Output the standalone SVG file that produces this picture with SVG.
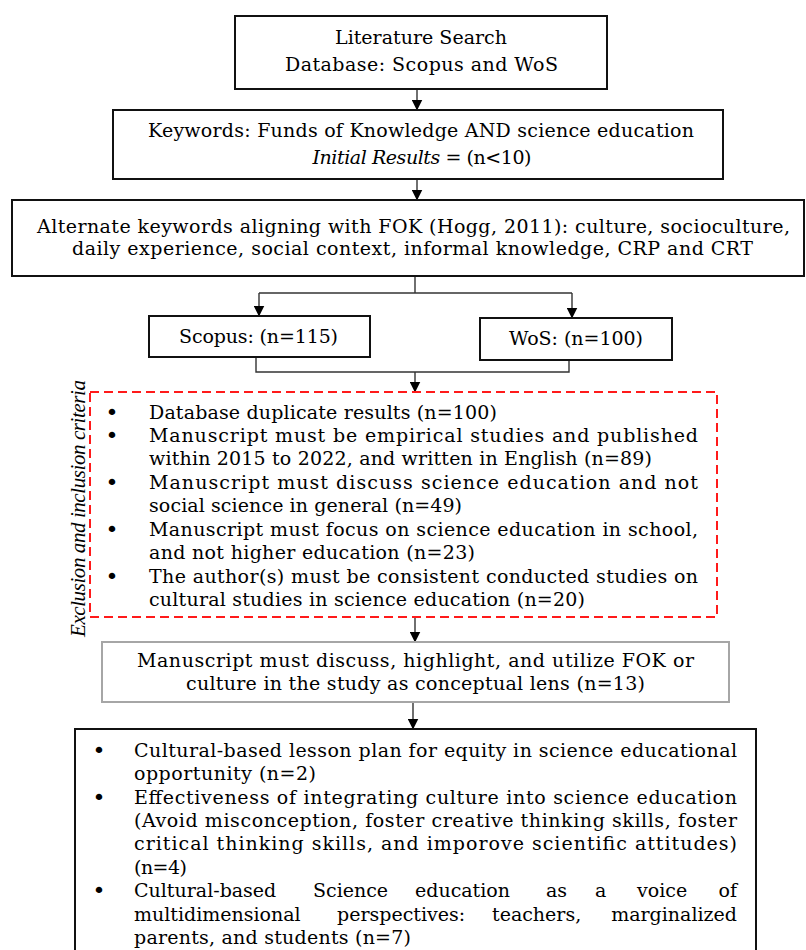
<svg xmlns="http://www.w3.org/2000/svg" width="806" height="950" viewBox="0 0 806 950">
<defs>
<style>
.box{fill:#fff;stroke:#111;stroke-width:2}
.gbox{fill:#fff;stroke:#a6a6a6;stroke-width:2}
.dbox{fill:none;stroke:#ff1a1a;stroke-width:2;stroke-dasharray:9 5}
.ln{fill:none;stroke:#333;stroke-width:1.4}
.t{font-family:"DejaVu Serif","Liberation Serif",serif;font-size:19px;fill:#000}
.b{font-family:"DejaVu Sans",sans-serif;font-size:22px;text-anchor:middle;fill:#000}
.m{text-anchor:middle}
.e{text-anchor:end}
.i{font-style:italic}
.v{font-family:"Liberation Serif",serif;font-style:italic;font-size:21px;fill:#000}
</style>
<marker id="ah" markerWidth="11" markerHeight="11" refX="10.5" refY="5.5" orient="auto" markerUnits="userSpaceOnUse">
<path d="M0,0 L11,5.5 L0,11 z" fill="#000"/>
</marker>
</defs>
<rect width="806" height="950" fill="#fff"/>

<g id="connectors">
<line class="ln" x1="417" y1="89" x2="417" y2="110" marker-end="url(#ah)"/>
<line class="ln" x1="417" y1="179" x2="417" y2="200" marker-end="url(#ah)"/>
<polyline class="ln" points="415,276 415,293"/>
<polyline class="ln" points="259,293 572,293"/>
<line class="ln" x1="259" y1="293" x2="259" y2="316" marker-end="url(#ah)"/>
<line class="ln" x1="572" y1="293" x2="572" y2="318" marker-end="url(#ah)"/>
<polyline class="ln" points="256,357 256,372 569,372 569,360"/>
<line class="ln" x1="415" y1="372" x2="415" y2="392" marker-end="url(#ah)"/>
<line class="ln" x1="415" y1="617" x2="415" y2="642" marker-end="url(#ah)"/>
<line class="ln" x1="413" y1="702" x2="413" y2="729" marker-end="url(#ah)"/>
</g>

<g id="literature-search">
<rect class="box" x="235" y="16" width="372" height="73"/>
<text class="t m" x="421" y="44" font-size="20" textLength="172">Literature Search</text>
<text class="t m" x="421.5" y="71" font-size="20" textLength="273">Database: Scopus and WoS</text>
</g>

<g id="keywords">
<rect class="box" x="113" y="110" width="610" height="69"/>
<text class="t m" x="421" y="137" textLength="546">Keywords: Funds of Knowledge AND science education</text>
<text class="t m" x="422" y="164" textLength="219"><tspan class="i">Initial Results</tspan> = (n&lt;10)</text>
</g>

<g id="alternate-keywords">
<rect class="box" x="12" y="200" width="792" height="76"/>
<text class="t" x="37" y="233" textLength="753">Alternate keywords aligning with FOK (Hogg, 2011): culture, socioculture,</text>
<text class="t" x="72" y="255" textLength="681">daily experience, social context, informal knowledge, CRP and CRT</text>
</g>

<g id="scopus">
<rect class="box" x="149" y="316" width="221" height="41"/>
<text class="t m" x="258.5" y="343" textLength="159">Scopus: (n=115)</text>
</g>

<g id="wos">
<rect class="box" x="480" y="318" width="192" height="42"/>
<text class="t m" x="576" y="345" textLength="134">WoS: (n=100)</text>
</g>

<g id="criteria">
<rect class="dbox" x="90" y="392" width="627" height="225"/>
<text class="v m" transform="translate(85,508.5) rotate(-90)" textLength="257">Exclusion and inclusion criteria</text>
<text class="b" x="112" y="420">•</text>
<text class="t" x="149" y="419" textLength="348">Database duplicate results (n=100)</text>
<text class="b" x="112" y="443">•</text>
<text class="t" x="149" y="442" textLength="549">Manuscript must be empirical studies and published</text>
<text class="t" x="149" y="465" textLength="503">within 2015 to 2022, and written in English (n=89)</text>
<text class="b" x="112" y="490">•</text>
<text class="t" x="149" y="489" textLength="549">Manuscript must discuss science education and not</text>
<text class="t" x="149" y="512" textLength="313">social science in general (n=49)</text>
<text class="b" x="112" y="537">•</text>
<text class="t" x="149" y="536" textLength="549">Manuscript must focus on science education in school,</text>
<text class="t" x="149" y="559" textLength="326">and not higher education (n=23)</text>
<text class="b" x="112" y="584">•</text>
<text class="t" x="149" y="583" textLength="549">The author(s) must be consistent conducted studies on</text>
<text class="t" x="149" y="606" textLength="436">cultural studies in science education (n=20)</text>
</g>

<g id="conceptual-lens">
<rect class="gbox" x="102" y="642" width="627" height="60"/>
<text class="t m" x="415.5" y="667" textLength="557">Manuscript must discuss, highlight, and utilize FOK or</text>
<text class="t m" x="415.5" y="690" textLength="459">culture in the study as conceptual lens (n=13)</text>
</g>

<g id="results">
<rect class="box" x="75" y="729" width="681" height="240"/>
<text class="b" x="99" y="758">•</text>
<text class="t" x="134" y="757" textLength="603">Cultural-based lesson plan for equity in science educational</text>
<text class="t" x="134" y="780" textLength="182">opportunity (n=2)</text>
<text class="b" x="99" y="805">•</text>
<text class="t" x="134" y="804" textLength="603">Effectiveness of integrating culture into science education</text>
<text class="t" x="134" y="827" textLength="603">(Avoid misconception, foster creative thinking skills, foster</text>
<text class="t" x="134" y="850" textLength="603">critical thinking skills, and imporove scientific attitudes)</text>
<text class="t" x="134" y="874" textLength="53">(n=4)</text>
<text class="b" x="99" y="898">•</text>
<text class="t" y="897"><tspan x="134">Cultural-based</tspan><tspan x="313">Science</tspan><tspan x="415">education</tspan><tspan x="546">as</tspan><tspan x="595">a</tspan><tspan x="637">voice</tspan></text>
<text class="t e" x="737" y="897">of</text>
<text class="t" y="921"><tspan x="134">multidimensional</tspan><tspan x="337">perspectives:</tspan><tspan x="492">teachers,</tspan></text>
<text class="t e" x="737" y="921">marginalized</text>
<text class="t" x="134" y="944" textLength="277">parents, and students (n=7)</text>
</g>
</svg>
